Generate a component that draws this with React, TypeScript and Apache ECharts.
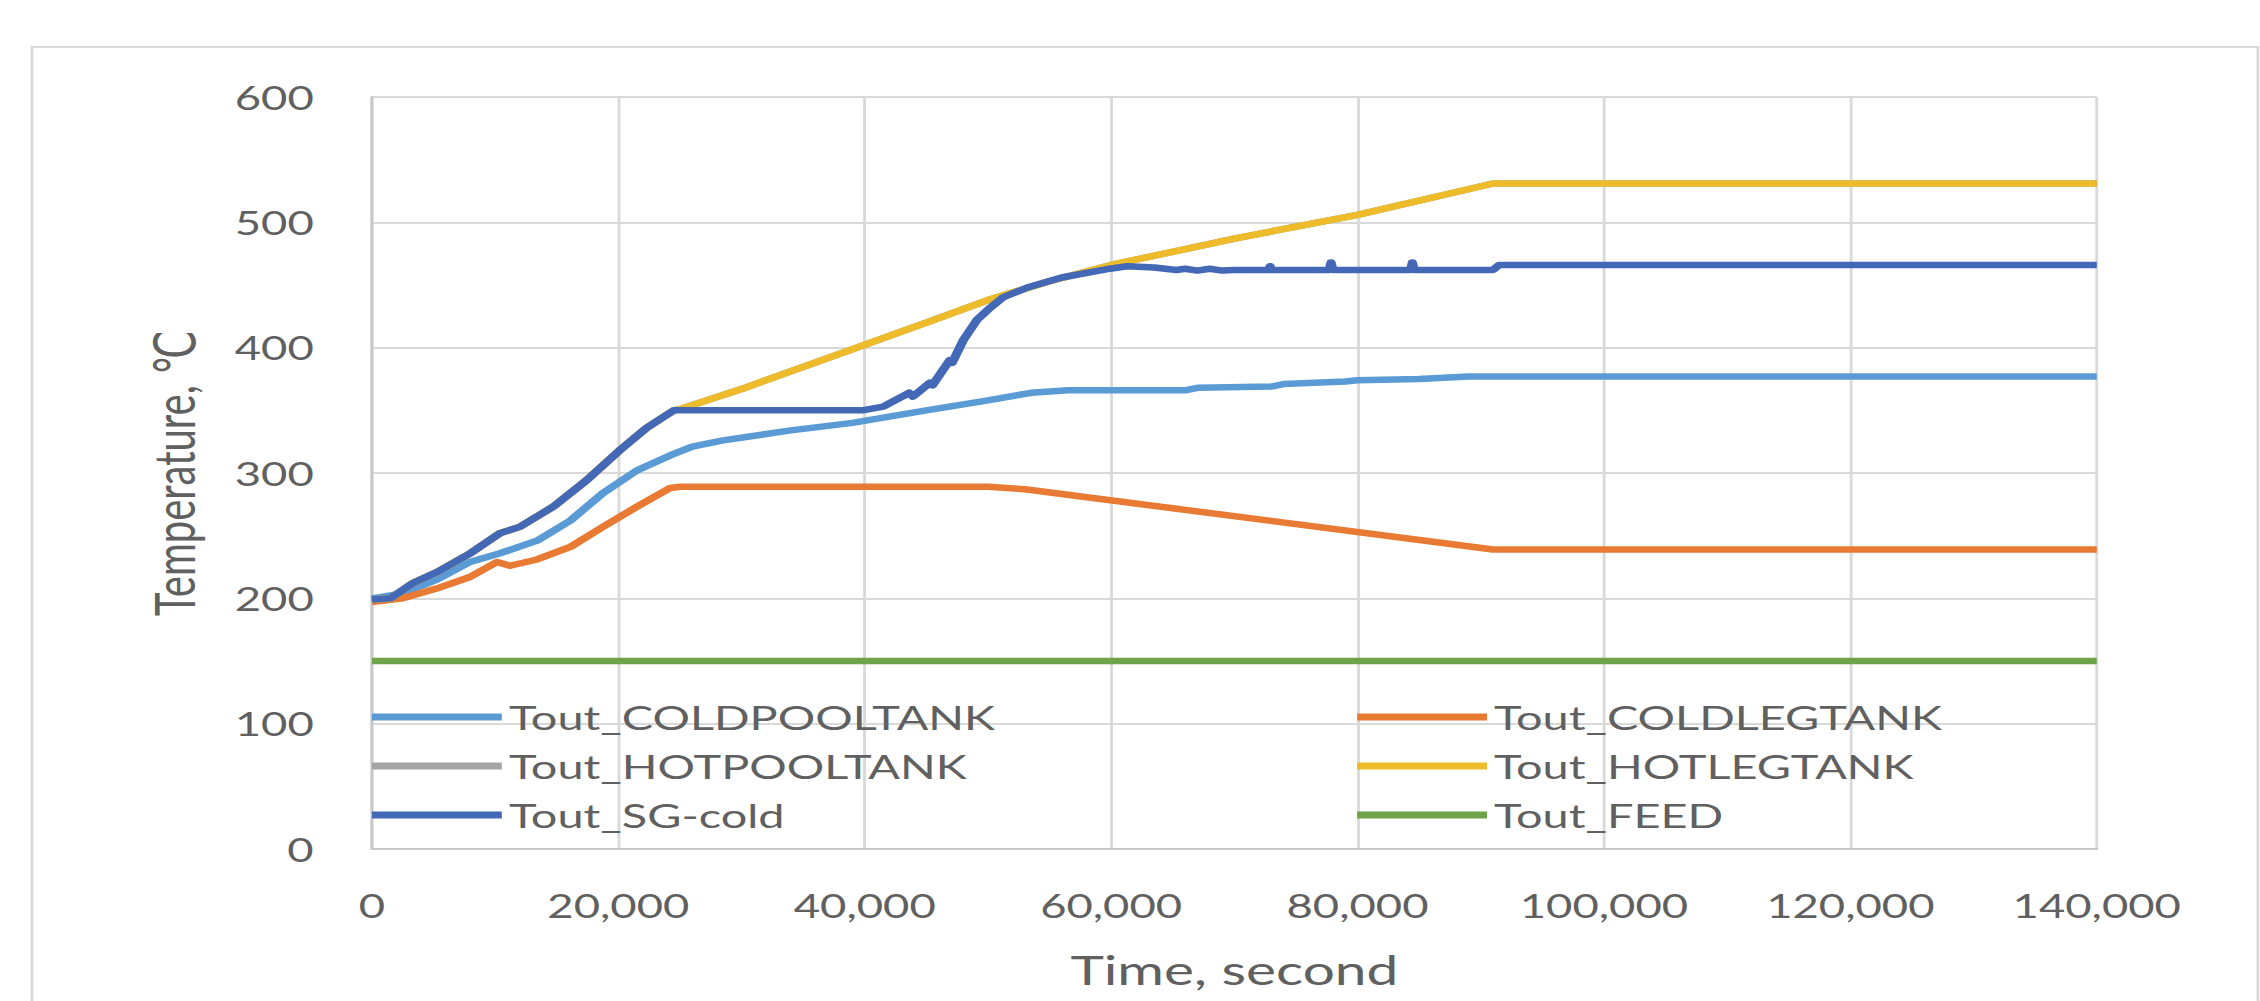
import React, { useEffect, useRef } from "react";
import * as echarts from "echarts";

// ---- data (time in seconds, temperature in °C) ----
const xTicks = [0, 20000, 40000, 60000, 80000, 100000, 120000, 140000];
const yTicks = [0, 100, 200, 300, 400, 500, 600];

const coldPoolTank: [number, number][] = [
  [0, 200], [2500, 204], [5300, 215], [7950, 229], [10400, 236], [13400, 246], [16100, 262],
  [18750, 284], [21500, 302], [24200, 314], [26000, 321], [28500, 326], [34000, 334],
  [39000, 340], [45000, 350], [50000, 358], [53500, 364], [56500, 366], [66000, 366],
  [67000, 368], [73000, 369], [74000, 371], [79000, 373], [80000, 374], [85000, 375],
  [89000, 377], [140000, 377],
];

const coldLegTank: [number, number][] = [
  [0, 197], [2500, 200], [5300, 208], [7950, 217], [10150, 229], [11200, 226], [13400, 231],
  [16100, 241], [18750, 257], [21500, 273], [24200, 288], [25000, 289], [50000, 289],
  [53000, 287], [91000, 239], [140000, 239],
];

const hotPoolTank: [number, number][] = [
  [0, 199], [1500, 200], [3300, 212], [5300, 221], [8000, 236], [10400, 252], [12000, 257],
  [14700, 273], [17400, 294], [20100, 318], [22300, 336], [24500, 350], [25000, 351],
  [30000, 367], [38800, 398], [45000, 420], [50000, 438], [55000, 453], [60000, 466],
  [70000, 487], [80000, 506], [91000, 531], [140000, 531],
];

const hotLegTank: [number, number][] = [
  [0, 199], [1500, 200], [3300, 212], [5300, 221], [8000, 236], [10400, 252], [12000, 257],
  [14700, 273], [17400, 294], [20100, 318], [22300, 336], [24500, 350], [25000, 351],
  [30000, 367], [38800, 398], [45000, 420], [50000, 438], [55000, 453], [60000, 466],
  [70000, 487], [80000, 506], [91000, 531], [140000, 531],
];

const sgCold: [number, number][] = [
  [0, 199], [1500, 200], [3300, 212], [5300, 221], [8000, 236], [10400, 252], [12000, 257],
  [14700, 273], [17400, 294], [20100, 318], [22300, 336], [24500, 350], [39800, 350],
  [41500, 353], [43600, 364], [43900, 361], [45300, 372], [45500, 370], [46900, 390],
  [47100, 388], [48000, 406], [49100, 422], [50200, 432], [51200, 440], [53200, 448],
  [56000, 456], [59900, 463], [61300, 465], [63500, 464], [65300, 462], [66000, 463],
  [67000, 461.5], [68000, 463], [69000, 461.5], [70000, 462], [72800, 462], [72900, 465],
  [73000, 462], [77700, 462], [77850, 468], [78000, 462], [84300, 462], [84450, 468],
  [84600, 462], [91000, 462], [91500, 466], [140000, 466],
];

const feed: [number, number][] = [
  [0, 150], [140000, 150],
];

const seriesNames = [
  "Tout_COLDPOOLTANK", "Tout_COLDLEGTANK", "Tout_HOTPOOLTANK",
  "Tout_HOTLEGTANK", "Tout_SG-cold", "Tout_FEED",
];
const seriesData = [coldPoolTank, coldLegTank, hotPoolTank, hotLegTank, sgCold, feed];
const seriesColors = ["#5b9bd5", "#e87a33", "#a5a5a5", "#eebc2a", "#4368b6", "#6ea34a"];

// ---- layout (chart drawn in a narrower frame, then stretched horizontally) ----
const PAGE_W = 2260;
const FRAME_W = 1592;
const S = PAGE_W / FRAME_W;
const FONT = "Lato, 'DejaVu Sans', sans-serif";
const TEXT = "#606060";

export default function App() {
  const ref = useRef<HTMLDivElement>(null);

  useEffect(() => {
    if (!ref.current) return;
    const chart = echarts.init(ref.current, undefined, { renderer: "svg" });
    const option: any = {
      animation: false,
      backgroundColor: "#ffffff",
      textStyle: { fontFamily: FONT },
      graphic: [
        {
          type: "rect",
          shape: { x: 22.5, y: 47, width: 1568, height: 1000 },
          style: { fill: "none", stroke: "#d9d9d9", lineWidth: 2 },
          silent: true,
        },
      ],
      grid: { left: 262, right: 115, top: 97, bottom: 152, containLabel: false },
      xAxis: {
        type: "value",
        min: xTicks[0],
        max: xTicks[xTicks.length - 1],
        interval: xTicks[1] - xTicks[0],
        name: "Time, second",
        nameLocation: "middle",
        nameGap: 101,
        nameTextStyle: { fontSize: 40, color: TEXT, fontFamily: FONT },
        axisLine: { show: true, lineStyle: { color: "#c8c8c8", width: 2 } },
        axisTick: { show: false },
        axisLabel: {
          fontSize: 32,
          color: TEXT,
          fontFamily: FONT,
          margin: 40,
          formatter: (v: number) => v.toLocaleString("en-US"),
        },
        splitLine: { show: true, lineStyle: { color: "#d9d9d9", width: 2 } },
      },
      yAxis: {
        type: "value",
        min: yTicks[0],
        max: yTicks[yTicks.length - 1],
        interval: yTicks[1] - yTicks[0],
        name: "Temperature, ℃",
        nameLocation: "middle",
        nameGap: 120,
        nameTextStyle: { fontSize: 40, color: TEXT, fontFamily: FONT },
        axisLine: { show: true, lineStyle: { color: "#c8c8c8", width: 2 } },
        axisTick: { show: false },
        axisLabel: { fontSize: 32, color: TEXT, fontFamily: FONT, margin: 41 },
        splitLine: { show: true, lineStyle: { color: "#d9d9d9", width: 2 } },
      },
      legend: [
        {
          data: [seriesNames[0], seriesNames[2], seriesNames[4]],
          orient: "vertical",
          left: 262,
          top: 700.5,
          padding: 0,
          icon: "rect",
          itemWidth: 91.5,
          itemHeight: 7,
          itemGap: 16,
          selectedMode: false,
          textStyle: { fontSize: 33, lineHeight: 33, color: TEXT, fontFamily: FONT },
        },
        {
          data: [seriesNames[1], seriesNames[3], seriesNames[5]],
          orient: "vertical",
          left: 956,
          top: 700.5,
          padding: 0,
          icon: "rect",
          itemWidth: 91.5,
          itemHeight: 7,
          itemGap: 16,
          selectedMode: false,
          textStyle: { fontSize: 33, lineHeight: 33, color: TEXT, fontFamily: FONT },
        },
      ],
      series: seriesNames.map((name, i) => ({
        name,
        type: "line",
        data: seriesData[i],
        symbol: "none",
        showSymbol: false,
        color: seriesColors[i],
        itemStyle: { color: seriesColors[i] },
        lineStyle: { width: 6.5, color: seriesColors[i], join: "round", cap: "butt" },
        z: 2 + i,
      })),
    };
    chart.setOption(option);
    return () => chart.dispose();
  }, []);

  return (
    <div
      ref={ref}
      style={{
        position: "fixed",
        left: 0,
        top: 0,
        width: FRAME_W,
        height: 1001,
        transform: `scaleX(${S})`,
        transformOrigin: "0 0",
        background: "#ffffff",
      }}
    />
  );
}
